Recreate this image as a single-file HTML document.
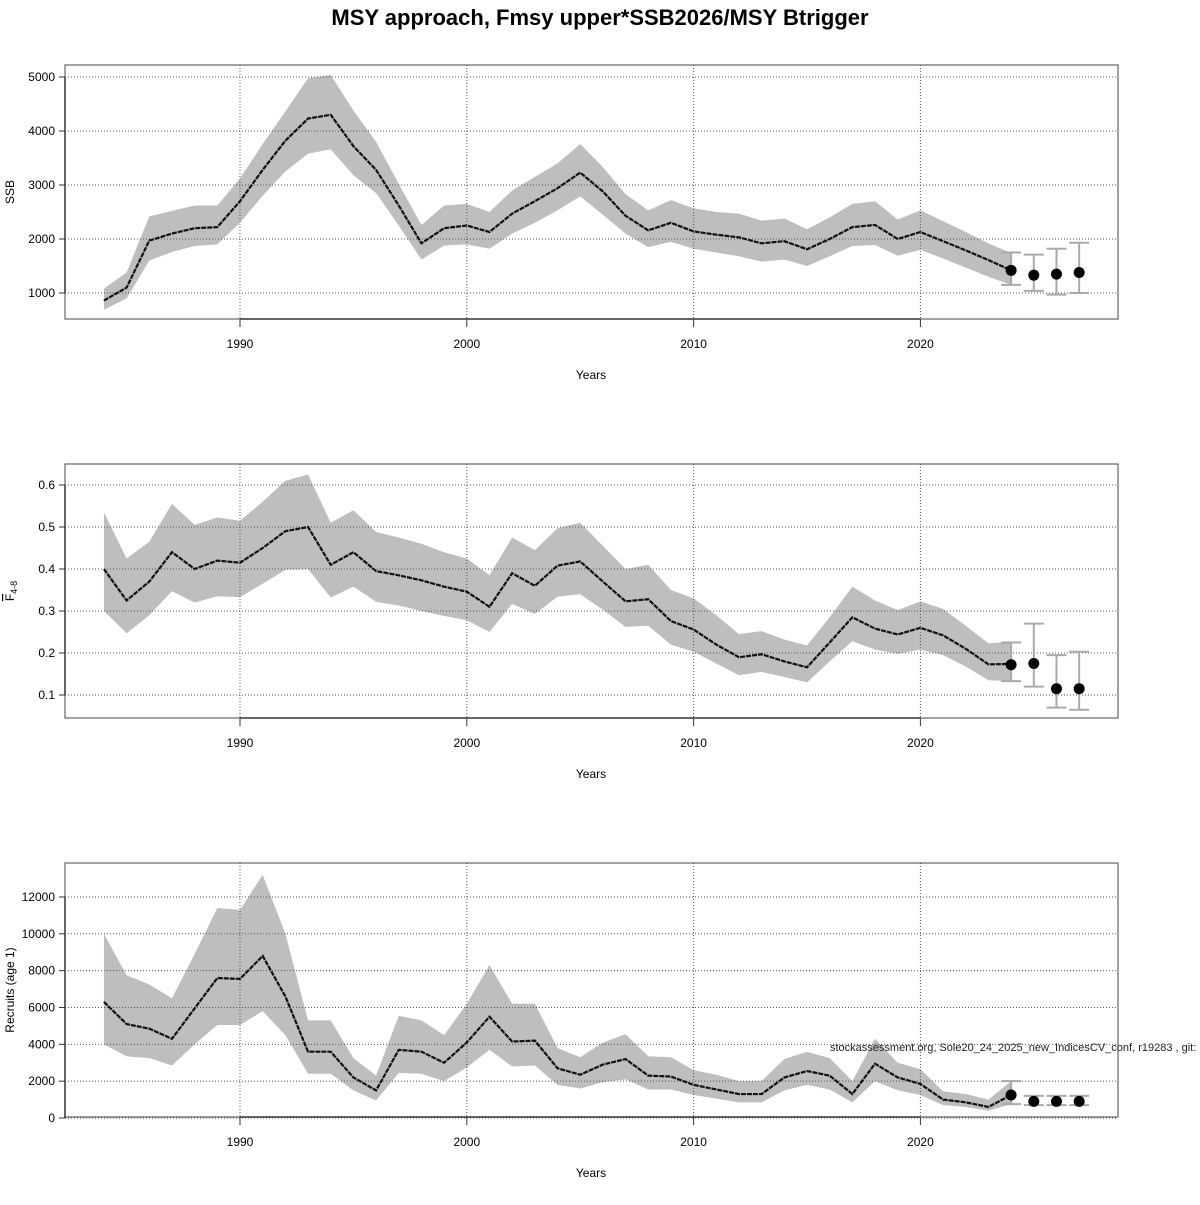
<!DOCTYPE html>
<html><head><meta charset="utf-8"><style>
body{margin:0;background:#fff;}
svg text{font-family:"Liberation Sans",sans-serif;}
</style></head><body>
<svg id="chart" width="1200" height="1200" viewBox="0 0 1200 1200" xmlns="http://www.w3.org/2000/svg">
<text x="600" y="25" text-anchor="middle" font-size="22" font-weight="bold">MSY approach, Fmsy upper*SSB2026/MSY Btrigger</text>
</svg>
<script>
const years = [];
for (let y = 1984; y <= 2024; y++) years.push(y);
const projYears = [2024, 2025, 2026, 2027];
const xTicks = [1990, 2000, 2010, 2020];

const ssbMean = [860,1100,1970,2100,2200,2220,2700,3280,3820,4230,4300,3720,3280,2620,1920,2200,2250,2130,2470,2700,2940,3230,2880,2430,2160,2300,2140,2080,2030,1920,1960,1810,2000,2220,2260,2000,2130,1960,1790,1610,1420];
const ssbHigh = [1080,1380,2420,2520,2620,2620,3120,3760,4360,4980,5040,4380,3800,3020,2260,2620,2650,2500,2900,3150,3400,3760,3330,2830,2530,2720,2570,2500,2470,2340,2380,2180,2400,2650,2700,2360,2530,2330,2130,1920,1740];
const ssbLow = [690,900,1600,1760,1870,1900,2300,2800,3250,3580,3660,3180,2850,2250,1620,1880,1900,1820,2100,2300,2530,2790,2450,2100,1850,1950,1820,1750,1680,1580,1620,1500,1680,1870,1890,1690,1800,1640,1470,1300,1150];
const ssbProj = [1420,1330,1350,1380];
const ssbProjLow = [1150,1040,970,1000];
const ssbProjHigh = [1750,1710,1820,1930];
const ssbTicks = [1000,2000,3000,4000,5000];

const fMean = [0.40,0.325,0.37,0.44,0.40,0.42,0.415,0.45,0.49,0.50,0.41,0.44,0.395,0.385,0.373,0.358,0.346,0.31,0.39,0.36,0.408,0.418,0.37,0.323,0.328,0.276,0.256,0.22,0.19,0.197,0.18,0.166,0.225,0.285,0.258,0.244,0.26,0.242,0.21,0.173,0.174];
const fHigh = [0.535,0.425,0.465,0.555,0.505,0.523,0.515,0.56,0.61,0.625,0.51,0.54,0.488,0.475,0.46,0.44,0.425,0.385,0.475,0.445,0.497,0.51,0.455,0.40,0.41,0.35,0.33,0.29,0.245,0.252,0.232,0.218,0.285,0.358,0.325,0.302,0.323,0.305,0.265,0.223,0.227];
const fLow = [0.30,0.247,0.29,0.347,0.32,0.335,0.333,0.365,0.398,0.40,0.332,0.358,0.322,0.313,0.30,0.288,0.278,0.25,0.317,0.293,0.334,0.34,0.303,0.262,0.265,0.22,0.203,0.175,0.147,0.155,0.143,0.13,0.18,0.228,0.208,0.198,0.208,0.195,0.168,0.135,0.133];
const fProj = [0.172,0.175,0.115,0.115];
const fProjLow = [0.133,0.12,0.07,0.065];
const fProjHigh = [0.225,0.27,0.195,0.203];
const fTicks = [0.1,0.2,0.3,0.4,0.5,0.6];

const recMean = [6300,5100,4850,4300,5950,7600,7550,8800,6600,3600,3600,2200,1500,3700,3600,3000,4100,5500,4150,4200,2700,2350,2900,3200,2300,2250,1800,1550,1300,1300,2200,2550,2300,1300,2950,2200,1850,1000,850,600,1250];
const recHigh = [10000,7750,7250,6500,8900,11400,11300,13200,10000,5300,5300,3250,2300,5550,5300,4500,6200,8300,6200,6200,3800,3300,4100,4550,3350,3300,2600,2350,2000,2000,3200,3600,3250,2000,4300,3000,2650,1450,1300,1000,2000];
const recLow = [4000,3350,3250,2850,4000,5050,5050,5800,4500,2400,2400,1500,950,2450,2400,2000,2750,3700,2800,2850,1800,1600,1950,2100,1550,1550,1250,1050,850,850,1500,1800,1550,850,2000,1500,1250,700,600,400,750];
const recProj = [1250,900,900,900];
const recProjLow = [750,700,700,700];
const recProjHigh = [2000,1200,1200,1200];
const recTicks = [0,2000,4000,6000,8000,10000,12000];

const NS = "http://www.w3.org/2000/svg";
const svg = document.getElementById('chart');
function mk(tag, attrs, parent) {
  const e = document.createElementNS(NS, tag);
  for (const k in attrs) e.setAttribute(k, attrs[k]);
  (parent || svg).appendChild(e);
  return e;
}
const L = 65, R = 1118;
function xScale(y) { return 240 + (y - 1990) * 22.68; }

function panel(key, top, yScale, ticks, fmt, ylabel, mean, low, high, pm, pl, ph) {
  const g = mk('g', {});
  
  
  const bot = top + 254;
  let pts = years.map((y, i) => xScale(y) + ',' + yScale(high[i]));
  for (let i = years.length - 1; i >= 0; i--) pts.push(xScale(years[i]) + ',' + yScale(low[i]));
  const band = mk('polygon', {points: pts.join(' '), fill: '#bebebe', stroke: 'none'}, g);
  
  
  ticks.forEach(t => {
    const gl = mk('line', {x1: L, x2: R, y1: yScale(t), y2: yScale(t), stroke: '#555', 'stroke-width': 1, 'stroke-dasharray': '1,2'}, g);
    
    
    const tk = mk('line', {x1: L - 6, x2: L, y1: yScale(t), y2: yScale(t), stroke: '#333'}, g);
    
    
    const tx = mk('text', {x: L - 10, y: yScale(t) + 4, 'text-anchor': 'end', 'font-size': 12}, g);
    tx.textContent = fmt(t);
    
    
  });
  xTicks.forEach(t => {
    const gl = mk('line', {x1: xScale(t), x2: xScale(t), y1: top, y2: bot, stroke: '#555', 'stroke-width': 1, 'stroke-dasharray': '1,2'}, g);
    
    
    const tk = mk('line', {x1: xScale(t), x2: xScale(t), y1: bot, y2: bot + 8, stroke: '#333'}, g);
    
    
    const tx = mk('text', {x: xScale(t), y: bot + 29, 'text-anchor': 'middle', 'font-size': 12}, g);
    tx.textContent = t;
    
    
  });
  const lp = years.map((y, i) => xScale(y) + ',' + yScale(mean[i])).join(' ');
  const ln = mk('polyline', {points: lp, fill: 'none', stroke: '#111', 'stroke-width': 2.2, 'stroke-dasharray': '5,1'}, g);
  
  
  projYears.forEach((y, i) => {
    const x = xScale(y);
    const eb = mk('path', {d: `M${x},${yScale(pl[i])}V${yScale(ph[i])}M${x - 10},${yScale(pl[i])}H${x + 10}M${x - 10},${yScale(ph[i])}H${x + 10}`, stroke: '#aaa', 'stroke-width': 2, fill: 'none'}, g);
    
    
    const c = mk('circle', {cx: x, cy: yScale(pm[i]), r: 5.5, fill: '#000'}, g);
    
    
  });
  const box = mk('rect', {x: L, y: top, width: R - L, height: 254, fill: 'none', stroke: '#444', 'stroke-width': 1}, g);
  
  
  const ya = mk('line', {x1: L, x2: L, y1: yScale(ticks[0]), y2: yScale(ticks[ticks.length - 1]), stroke: '#333', 'stroke-width': 1.5}, g);
  
  
  const xa = mk('line', {x1: xScale(1990), x2: xScale(2020), y1: bot, y2: bot, stroke: '#333', 'stroke-width': 1.5}, g);
  
  
  const xl = mk('text', {x: 591, y: bot + 60, 'text-anchor': 'middle', 'font-size': 12}, g);
  xl.textContent = 'Years';
  
  
  const yl = mk('text', {x: 0, y: 0, 'text-anchor': 'middle', 'font-size': 12, transform: `translate(14,${top + 127}) rotate(-90)`}, g);
  yl.innerHTML = ylabel;
  
  
}

panel('ssb', 65, v => 293 - (v - 1000) * 0.054, ssbTicks, t => t, 'SSB', ssbMean, ssbLow, ssbHigh, ssbProj, ssbProjLow, ssbProjHigh);
panel('fishing-mortality', 464, v => 695 - (v - 0.1) * 420, fTicks, t => t.toFixed(1), '<tspan text-decoration="overline">F</tspan><tspan font-size="9" dy="3">4-8</tspan>', fMean, fLow, fHigh, fProj, fProjLow, fProjHigh);
panel('recruits', 863, v => 1118 - v * 0.01842, recTicks, t => t, 'Recruits (age 1)', recMean, recLow, recHigh, recProj, recProjLow, recProjHigh);

const wm = mk('text', {x: 830, y: 1051, 'font-size': 11, fill: '#222'});
wm.textContent = 'stockassessment.org, Sole20_24_2025_new_IndicesCV_conf, r19283 , git: 1cc4';


</script>
</body></html>
